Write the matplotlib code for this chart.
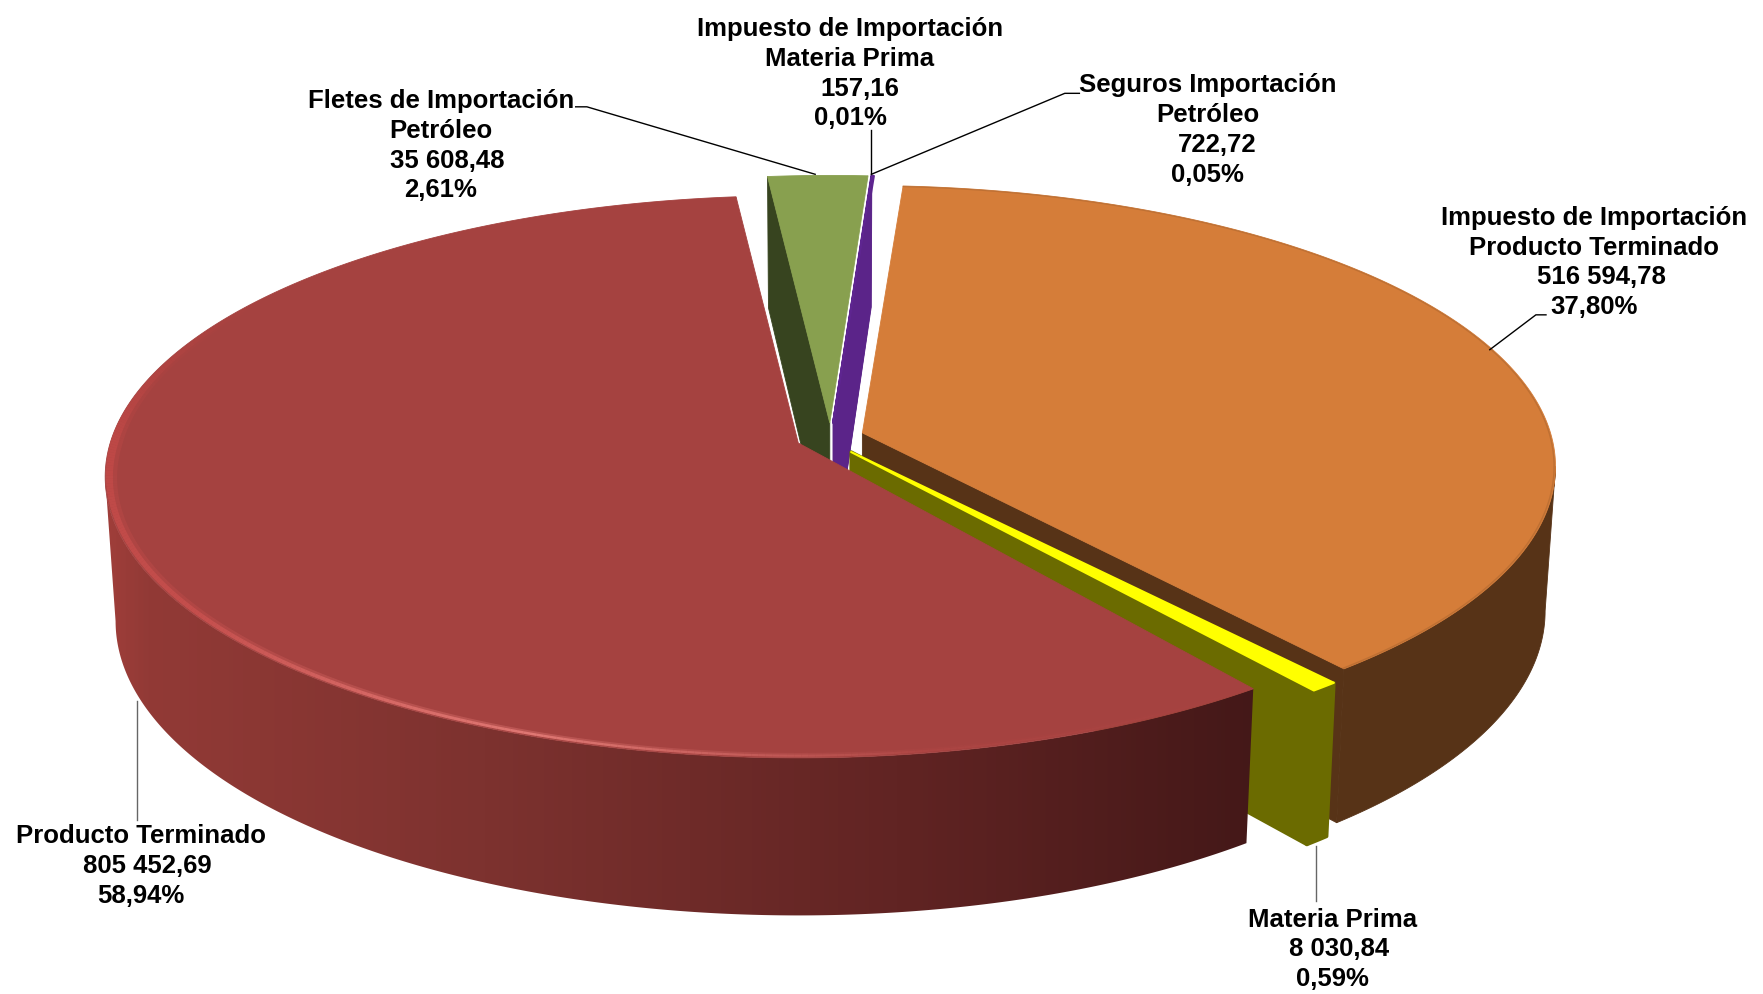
import matplotlib
matplotlib.use("Agg")
import matplotlib.pyplot as plt
from matplotlib.collections import LineCollection
from matplotlib.colors import LinearSegmentedColormap
import numpy as np

plt.rcParams['font.family'] = ['Liberation Sans', 'DejaVu Sans']

# data, clockwise from the top of the pie
names = [
    ["Impuesto de Importación", "Producto Terminado"],
    ["Materia Prima"],
    ["Producto Terminado"],
    ["Fletes de Importación", "Petróleo"],
    ["Impuesto de Importación", "Materia Prima"],
    ["Seguros Importación", "Petróleo"],
]
values = [516594.78, 8030.84, 805452.69, 35608.48, 157.16, 722.72]

# label placement, in the 1568x884 drawing units
label_x = [1418, 1185, 125, 392, 756, 1074]
label_y = [192, 816, 742, 88, 24, 74]
number_shift = [6, 6, 6, 6, 9, 9]

# pie geometry
A = 612.0      # horizontal radius
B = 246.4      # vertical radius
K = 0.12       # perspective
D = 127.0      # thickness
SHRINK = 0.985  # bottom face a bit smaller
START = 3.8    # degrees clockwise from top
apex_x = [767, 757, 710, 738, 741, 741]
apex_y = [385, 402, 394, 376, 376, 376]
radius = [1.0, 0.99, 1.0, 1.0, 1.0, 1.0]
trim = [0, 0, 1.3, 0, 0, 0]  # rounded corner eats the start of a slice
orange_extra = 0.7

top_colors = ["#D57D39", "#FFFF00", "#A54240", "#88A04F", "#5E2590", "#5E2590"]
side_colors = ["#573317", "#6B6B00", "#8F3A36", "#37441F", "#5B2489", "#5B2489"]

total = sum(values)
spans = [v / total * 360 for v in values]
edges = START + np.concatenate([[0], np.cumsum(spans)])
# angle of the widest point of the projected ellipse
extreme = np.degrees(np.arccos(-K))


def project(i, r, phi, z=0.0):
    # phi in degrees clockwise from the top, z 0 = top face, 1 = bottom face
    t = np.radians(phi)
    X = r * radius[i] * np.sin(t)
    Y = -r * radius[i] * np.cos(t)
    s = 1 / (1 - K * Y)
    f = 1 - (1 - SHRINK) * z
    return apex_x[i] + A * X * s * f, apex_y[i] + B * Y * s * f + D * s * z


def top_face(i, extra=0.0):
    phi = np.linspace(edges[i] + trim[i], edges[i + 1] + extra, 300)
    x, y = project(i, 1.0, phi)
    return np.column_stack([np.r_[apex_x[i], x], np.r_[apex_y[i], y]])


def cut_face(i, phi):
    pts = [project(i, 0.0, phi), project(i, 1.0, phi), project(i, 1.0, phi, 1), project(i, 0.0, phi, 1)]
    return np.array(pts)


def wall(i, a, b):
    phi = np.linspace(a, b, 300)
    x1, y1 = project(i, 1.0, phi)
    x2, y2 = project(i, 1.0, phi[::-1], 1)
    return np.column_stack([np.r_[x1, x2], np.r_[y1, y2]])


fig = plt.figure(figsize=(17.63, 9.94), dpi=100)
ax = fig.add_axes([0, 0, 1, 1])


def poly(pts, color, lw=0.6):
    return ax.fill(pts[:, 0], pts[:, 1], facecolor=color, edgecolor=color, linewidth=lw, joinstyle="round")[0]


# back slivers first
for i in [5, 4]:
    poly(cut_face(i, edges[i]), side_colors[i])
    poly(top_face(i), top_colors[i], lw=1.5)
poly(cut_face(3, edges[3]), side_colors[3])
poly(top_face(3), top_colors[3])

# orange
poly(cut_face(0, edges[1] + orange_extra), side_colors[0])
poly(wall(0, extreme, edges[1] + orange_extra), side_colors[0])
poly(top_face(0, orange_extra), top_colors[0])
phi = np.linspace(edges[0], edges[1] + orange_extra, 300)
x, y = project(0, 0.998, phi)
ax.plot(x, y, color="#8A5226", lw=1, alpha=0.3)

# yellow
poly(cut_face(1, edges[2]), side_colors[1], lw=2.5)
poly(wall(1, edges[1], edges[2]), side_colors[1], lw=2.5)
poly(top_face(1), top_colors[1], lw=1.5)

# red wall, darker to the right
red_wall = poly(wall(2, edges[2] + trim[2], 360 - extreme), "none", lw=0)
xn = np.array([92, 130, 430, 800, 1118])
rgb = np.array([[160, 62, 58], [146, 58, 54], [125, 50, 47], [97, 36, 35], [68, 24, 24]]) / 255
cmap = LinearSegmentedColormap.from_list("redwall", list(zip((xn - xn[0]) / (xn[-1] - xn[0]), rgb)))
im = ax.imshow(np.linspace(0, 1, 512).reshape(1, -1), cmap=cmap, aspect="auto",
               extent=[xn[0], xn[-1], 830, 400], zorder=red_wall.get_zorder())
im.set_clip_path(red_wall)
poly(top_face(2), top_colors[2])

# highlight along the red rim, soft layers
phi = np.linspace(edges[2] + trim[2], edges[3], 400)
mid_p = (phi[:-1] + phi[1:]) / 2
pn = [142, 170, 200, 235, 270, 288, 305]
rn = np.array([[165, 66, 64], [175, 70, 68], [240, 135, 130], [205, 82, 80],
               [196, 74, 72], [178, 68, 66], [165, 66, 64]]) / 255
rim_cols = np.column_stack([np.interp(mid_p, pn, rn[:, c]) for c in range(3)])
rim_w = np.interp(mid_p, [142, 200, 240, 270, 305], [1.2, 1.8, 3.5, 5.5, 1.2])
for r, scale, alpha in [(0.991, 1.6, 0.3), (0.994, 1.0, 0.7)]:
    x, y = project(2, r, phi)
    segs = np.stack([np.column_stack([x[:-1], y[:-1]]), np.column_stack([x[1:], y[1:]])], axis=1)
    ax.add_collection(LineCollection(segs, colors=np.column_stack([rim_cols, np.full(len(mid_p), alpha)]),
                                     linewidths=rim_w * scale, capstyle="butt"))

# leader lines
ax.plot([512, 522, 725], [95, 95, 155], color="black", lw=1)
ax.plot([775, 775], [116, 155], color="black", lw=1)
ax.plot([960, 947, 775], [83, 83, 155], color="black", lw=1)
ax.plot([1375, 1366, 1325], [280, 280, 311], color="black", lw=1)
ax.plot([122, 122], [623, 729], color="#666666", lw=1)
ax.plot([1170, 1170], [752, 801], color="#666666", lw=1)

# labels
step = 26.5
for i in range(len(values)):
    money = f"{values[i]:,.2f}".replace(",", " ").replace(".", ",")
    pct = f"{values[i] / total * 100:.2f}".replace(".", ",") + "%"
    lines = names[i] + [money, pct]
    shifts = [0] * len(names[i]) + [number_shift[i], 0]
    for j, txt in enumerate(lines):
        ax.text(label_x[i] + shifts[j], label_y[i] + j * step + 8, txt, ha="center", va="baseline",
                fontsize=18.5, fontweight="bold", color="black")

ax.set_xlim(0, 1568)
ax.set_ylim(884, 0)
ax.axis("off")

fig.savefig("out.png", dpi=100)
